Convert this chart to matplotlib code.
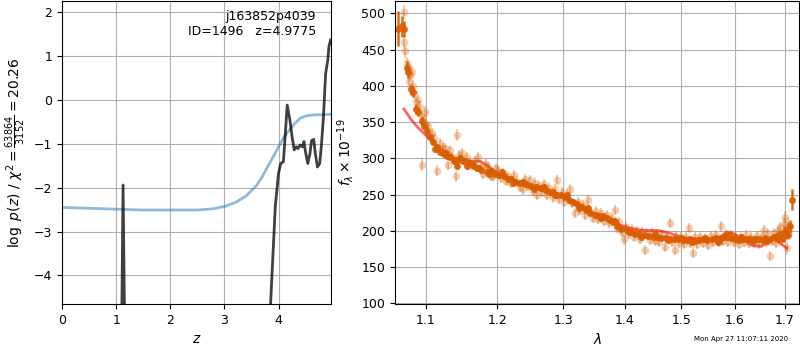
import matplotlib
matplotlib.use("Agg")
import matplotlib.pyplot as plt
import numpy as np

# redshift fit: chi2 curve and log p(z)
z_grid = [0.0, 0.5, 1.0, 1.5, 2.0, 2.5, 2.8, 3.0, 3.2, 3.4, 3.6, 3.7, 3.8, 3.9,
          4.0, 4.1, 4.2, 4.3, 4.4, 4.5, 4.6, 4.7, 4.8, 4.97]
chi2_scaled = [-2.45, -2.47, -2.49, -2.51, -2.51, -2.51, -2.48, -2.43, -2.34, -2.19,
               -1.94, -1.75, -1.52, -1.30, -1.07, -0.85, -0.69, -0.54, -0.42, -0.37,
               -0.35, -0.34, -0.34, -0.33]

z_pz = [0.0, 1.10, 1.128, 1.16, 3.80, 3.94, 4.00, 4.04, 4.09, 4.13, 4.16, 4.21, 4.25,
        4.29, 4.33, 4.36, 4.40, 4.44, 4.47, 4.50, 4.54, 4.58, 4.61, 4.65, 4.68, 4.72,
        4.76, 4.79, 4.83, 4.87, 4.91, 4.93, 4.96]
log_pz = [-25.0, -5.5, -1.94, -5.5, -6.0, -2.43, -1.67, -1.45, -1.41, -0.69, -0.12,
          -0.46, -0.84, -1.14, -1.07, -1.11, -1.03, -1.07, -0.95, -1.20, -1.45, -1.23,
          -0.93, -0.90, -1.23, -1.53, -1.45, -1.07, -0.39, 0.60, 0.90, 1.20, 1.36]

# combined spectrum (wavelength in microns, flux x 1e-19)
wave_comb = [1.0640, 1.0684, 1.0717, 1.0749, 1.0770, 1.0805, 1.0827, 1.0871, 1.0901, 1.0946,
             1.0980, 1.1013, 1.1057, 1.1100, 1.1148, 1.1193, 1.1240, 1.1290, 1.1330, 1.1380,
             1.1422, 1.1468, 1.1515, 1.1562, 1.1610, 1.1660, 1.1710, 1.1760, 1.1846, 1.1900,
             1.1960, 1.2024, 1.2090, 1.2150, 1.2196, 1.2260, 1.2330, 1.2421, 1.2500, 1.2570,
             1.2648, 1.2720, 1.2790, 1.2833, 1.2900, 1.2960, 1.3021, 1.3090, 1.3150, 1.3213,
             1.3290, 1.3359, 1.3430, 1.3500, 1.3570, 1.3637, 1.3700, 1.3760, 1.3806, 1.3870,
             1.3940, 1.4035, 1.4110, 1.4180, 1.4253, 1.4330, 1.4410, 1.4488, 1.4560, 1.4640,
             1.4716, 1.4800, 1.4870, 1.4945, 1.5030, 1.5100, 1.5163, 1.5240, 1.5320, 1.5400,
             1.5480, 1.5560, 1.5640, 1.5720, 1.5800, 1.5850, 1.5930, 1.6000, 1.6080, 1.6160,
             1.6243, 1.6330, 1.6400, 1.6480, 1.6560, 1.6641, 1.6710, 1.6776, 1.6850, 1.6913,
             1.6970, 1.7016, 1.7064, 1.7114, 1.7155,
             1.1120, 1.1270, 1.1440, 1.1590, 1.1730, 1.1880, 1.2060, 1.2230, 1.2380, 1.2540,
             1.2690, 1.2870, 1.3060, 1.3250, 1.3400, 1.3600, 1.3840, 1.4070, 1.4290, 1.4520,
             1.4760, 1.4990, 1.5200, 1.5440, 1.5680, 1.5900, 1.6120, 1.6360, 1.6600, 1.6880]
flux_comb = [479, 482, 479, 425, 419, 395, 392, 368, 364, 352,
             345, 338, 330, 322, 316, 309, 306, 303, 302, 296,
             289, 301, 296, 289, 293, 290, 287, 284, 281, 283,
             279, 277, 275, 272, 272, 268, 266, 265, 262, 260,
             259, 256, 253, 254, 250, 249, 246, 242, 240, 237,
             233, 229, 224, 222, 221, 221, 218, 215, 212, 207,
             203, 201, 198, 196, 195, 194, 193, 192, 192, 190,
             190, 189, 188, 188, 187, 187, 188, 186, 187, 188,
             187, 189, 190, 188, 191, 192, 190, 188, 187, 189,
             189, 188, 189, 188, 187, 186, 188, 191, 193, 196,
             190, 200, 194, 206, 243,
             313, 308, 298, 294, 286, 278, 281, 266, 268, 258,
             261, 249, 250, 232, 231, 218, 214, 199, 191, 195,
             187, 190, 184, 190, 185, 194, 191, 186, 190, 188]
err_comb = [24, 15, 11, 9, 8, 8, 7, 7, 6, 6,
            5, 5, 5] + [4] * 87 + [5, 6, 6, 9, 14] + [4] * 30

# individual exposures
wave_exp = [1.0717, 1.0717, 1.0730, 1.0749, 1.0763, 1.0779, 1.0792, 1.0814, 1.0830, 1.0849,
            1.0867, 1.0901, 1.0925, 1.0946, 1.0954, 1.0990, 1.1000, 1.1035, 1.1080, 1.1115,
            1.1152, 1.1193, 1.1230, 1.1261, 1.1306, 1.1330, 1.1353, 1.1408, 1.1422, 1.1450,
            1.1491, 1.1530, 1.1562, 1.1600, 1.1633, 1.1680, 1.1724, 1.1760, 1.1795, 1.1830,
            1.1867, 1.1900, 1.1939, 1.1980, 1.2010, 1.2050, 1.2080, 1.2120, 1.2160, 1.2200,
            1.2246, 1.2290, 1.2330, 1.2374, 1.2400, 1.2450, 1.2480, 1.2530, 1.2560, 1.2589,
            1.2620, 1.2660, 1.2700, 1.2740, 1.2780, 1.2830, 1.2860, 1.2895, 1.2930, 1.2970,
            1.3010, 1.3050, 1.3103, 1.3140, 1.3183, 1.3230, 1.3270, 1.3310, 1.3350, 1.3398,
            1.3430, 1.3470, 1.3520, 1.3560, 1.3600, 1.3650, 1.3700, 1.3740, 1.3790, 1.3840,
            1.3870, 1.3910, 1.3950, 1.3986, 1.4020, 1.4070, 1.4120, 1.4160, 1.4210, 1.4260,
            1.4300, 1.4354, 1.4390, 1.4430, 1.4470, 1.4520, 1.4560, 1.4600, 1.4650, 1.4695,
            1.4740, 1.4797, 1.4830, 1.4875, 1.4910, 1.4960, 1.5000, 1.5050, 1.5090, 1.5129,
            1.5160, 1.5203, 1.5250, 1.5290, 1.5340, 1.5390, 1.5440, 1.5490, 1.5540, 1.5590,
            1.5640, 1.5690, 1.5739, 1.5780, 1.5830, 1.5880, 1.5930, 1.5980, 1.6030, 1.6080,
            1.6130, 1.6180, 1.6230, 1.6280, 1.6330, 1.6380, 1.6430, 1.6480, 1.6530, 1.6583,
            1.6620, 1.6660, 1.6705, 1.6740, 1.6780, 1.6820, 1.6860, 1.6900, 1.6940, 1.6980,
            1.7000, 1.7020, 1.7044, 1.7060, 1.7090]
flux_exp = [502, 461, 448, 431, 426, 406, 415, 419, 400, 390,
            378, 380, 371, 357, 291, 364, 346, 344, 335, 328,
            283, 321, 314, 314, 291, 312, 302, 275, 332, 305,
            307, 296, 302, 292, 291, 296, 302, 288, 279, 292,
            288, 276, 275, 286, 282, 273, 280, 269, 276, 266,
            277, 268, 261, 257, 272, 262, 270, 255, 266, 249,
            262, 253, 264, 250, 259, 246, 257, 270, 244, 253,
            240, 250, 258, 238, 224, 240, 229, 236, 222, 242,
            226, 218, 227, 216, 224, 214, 222, 211, 217, 229,
            204, 212, 199, 188, 205, 196, 203, 192, 200, 189,
            198, 173, 195, 187, 197, 186, 196, 184, 194, 178,
            192, 211, 185, 174, 193, 183, 191, 182, 192, 204,
            183, 170, 191, 182, 192, 183, 190, 181, 193, 184,
            194, 185, 206, 186, 196, 184, 194, 185, 192, 182,
            192, 184, 194, 183, 192, 185, 193, 182, 191, 201,
            184, 195, 165, 186, 197, 183, 200, 205, 188, 210,
            219, 197, 176, 208, 203]
err_exp = ([10, 9, 9, 9, 8, 8, 8, 8, 8, 8,
            8, 8, 8, 8, 9, 8, 8, 7, 7, 7,
            8, 7, 7, 7, 7, 7, 7, 8, 8, 7] + [7] * 130
           + [8, 8, 9, 9, 9, 9, 10, 10, 10, 10, 11])[:len(wave_exp)]

# template fit
wave_model = [1.0713, 1.081, 1.090, 1.100, 1.110, 1.1193, 1.130, 1.1399, 1.151, 1.1654,
              1.1749, 1.185, 1.2003, 1.220, 1.2384, 1.2637, 1.280, 1.2999, 1.3208, 1.3427,
              1.356, 1.3702, 1.382, 1.3926, 1.4093, 1.4267, 1.445, 1.462, 1.4797, 1.4979,
              1.5163, 1.535, 1.5473, 1.5534, 1.5659, 1.5722, 1.585, 1.5979, 1.6175, 1.6373,
              1.654, 1.6673, 1.6776, 1.6878, 1.7048]
flux_model = [368, 353, 342, 332, 322, 314, 306, 300, 298.5, 295.5,
              296, 290, 279, 271, 263, 256, 252, 247, 238, 226,
              223, 219, 214, 208, 203.5, 201, 200.5, 200, 196.6, 191,
              189.5, 188.7, 189.5, 188.3, 190, 192, 198, 196, 187, 179,
              179, 186.6, 190, 184, 176]

plt.rcParams['font.size'] = 9
fig = plt.figure(figsize=(8, 3.5), dpi=100)
ax1 = fig.add_axes([0.0775, 0.1314, 0.3363, 0.8657])
ax2 = fig.add_axes([0.4938, 0.1314, 0.5054, 0.8657])

ax1.plot(z_grid, chi2_scaled, color='tab:blue', alpha=0.5, lw=2)
ax1.plot(z_pz, log_pz, color='k', alpha=0.75, lw=2)
ax1.set_xlim(0, 4.97)
ax1.set_ylim(-4.65, 2.25)
ax1.set_xticks([0, 1, 2, 3, 4])
ax1.set_yticks([-4, -3, -2, -1, 0, 1, 2])
ax1.grid()
ax1.set_xlabel('$z$', fontsize=10)
ax1.set_ylabel(r'$\log\ p(z)$ / $\chi^2=\frac{63864}{3152}=20.26$', fontsize=10)
ax1.text(0.945, 0.97, 'j163852p4039\nID=1496   z=4.9775', transform=ax1.transAxes,
         ha='right', va='top', fontsize=9)

orange = (0.85, 0.37, 0.0)
ax2.errorbar(wave_exp, flux_exp, yerr=err_exp, fmt='o', color=orange, alpha=0.3,
             markersize=5.5, elinewidth=1.5, markeredgewidth=0)
ax2.errorbar(wave_comb, flux_comb, yerr=err_comb, fmt='o', color=orange, alpha=0.9,
             markersize=5, elinewidth=1.8, markeredgewidth=0)
ax2.plot(wave_model, flux_model, color='r', alpha=0.6, lw=2)
ax2.set_xscale('log')
ax2.set_xlim(1.0598, 1.7306)
ax2.set_ylim(99, 517)
ax2.set_xticks([1.1, 1.2, 1.3, 1.4, 1.5, 1.6, 1.7])
ax2.set_xticklabels(['1.1', '1.2', '1.3', '1.4', '1.5', '1.6', '1.7'])
ax2.xaxis.set_minor_locator(matplotlib.ticker.NullLocator())
ax2.set_yticks(np.arange(100, 501, 50))
ax2.grid()
ax2.set_xlabel(r'$\lambda$', fontsize=10)
ax2.set_ylabel(r'$f_\lambda\times10^{-19}$', fontsize=10)

fig.text(0.985, 0.031, 'Mon Apr 27 11:07:11 2020', ha='right', va='center', fontsize=5)

fig.savefig('out.png', dpi=100)
